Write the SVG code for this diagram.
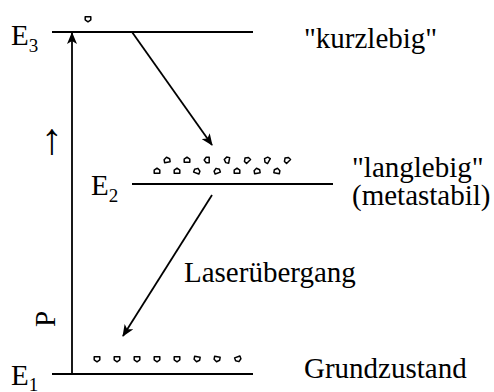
<svg xmlns="http://www.w3.org/2000/svg" width="494" height="392" viewBox="0 0 494 392">
<defs>
<marker id="ah" viewBox="0 0 12 10" refX="11" refY="5" markerWidth="12" markerHeight="10" markerUnits="userSpaceOnUse" orient="auto">
<path d="M0,0 L12,5 L0,10 L3,5 Z" fill="#000"/>
</marker>
<path id="d" fill="#fff" stroke="#000" stroke-width="1.5" stroke-linejoin="round" d="M-2.8,-2.2 L2.8,-2.2 L2.8,0.8 L0,2.8 L-2.8,0.8 Z"/>
</defs>
<g id="level-E3">
<line stroke="#000" stroke-width="2" x1="52" y1="32" x2="253" y2="32"/>
<text font-family="Liberation Serif" font-size="29" x="11" y="45">E<tspan font-size="19" dy="7">3</tspan></text>
<use href="#d" x="88" y="19"/>
<text font-family="Liberation Serif" font-size="29" x="304" y="48">"kurzlebig"</text>
</g>
<g id="level-E2">
<line stroke="#000" stroke-width="2" x1="132" y1="184" x2="333" y2="184"/>
<text font-family="Liberation Serif" font-size="29" x="91" y="195">E<tspan font-size="19" dy="7">2</tspan></text>
<use href="#d" x="157" y="171" transform="rotate(180 157 171)"/>
<use href="#d" x="177" y="171" transform="rotate(180 177 171)"/>
<use href="#d" x="197" y="171" transform="rotate(200 197 171)"/>
<use href="#d" x="217" y="171" transform="rotate(160 217 171)"/>
<use href="#d" x="237" y="171" transform="rotate(180 237 171)"/>
<use href="#d" x="257" y="171" transform="rotate(170 257 171)"/>
<use href="#d" x="277" y="171" transform="rotate(190 277 171)"/>
<use href="#d" x="167" y="160" transform="rotate(170 167 160)"/>
<use href="#d" x="187" y="160" transform="rotate(180 187 160)"/>
<use href="#d" x="207" y="160" transform="rotate(90 207 160)"/>
<use href="#d" x="227" y="160" transform="rotate(100 227 160)"/>
<use href="#d" x="247" y="160" transform="rotate(135 247 160)"/>
<use href="#d" x="267" y="160" transform="rotate(120 267 160)"/>
<use href="#d" x="287" y="160" transform="rotate(135 287 160)"/>
<text font-family="Liberation Serif" font-size="29" x="352" y="177">"langlebig"</text>
<text font-family="Liberation Serif" font-size="29" x="352" y="205">(metastabil)</text>
</g>
<g id="level-E1">
<line stroke="#000" stroke-width="2" x1="52" y1="374" x2="253" y2="374"/>
<text font-family="Liberation Serif" font-size="29" x="11" y="385">E<tspan font-size="19" dy="6">1</tspan></text>
<use href="#d" x="97" y="359"/>
<use href="#d" x="117" y="359"/>
<use href="#d" x="137" y="359"/>
<use href="#d" x="157" y="359"/>
<use href="#d" x="177" y="359"/>
<use href="#d" x="197" y="359" transform="rotate(10 197 359)"/>
<use href="#d" x="217" y="359" transform="rotate(10 217 359)"/>
<use href="#d" x="238" y="359" transform="rotate(-20 238 359)"/>
<text font-family="Liberation Serif" font-size="29" x="304" y="378">Grundzustand</text>
</g>
<g id="pump-label">
<text font-family="Liberation Serif" font-size="29" transform="translate(55,327) rotate(-90)" x="0" y="0">P</text>
<text font-family="Liberation Serif" font-size="44" transform="translate(59,164) rotate(-90)" x="0" y="0">→</text>
</g>
<g id="laser-label">
<text font-family="Liberation Serif" font-size="29" x="184" y="282">Laserübergang</text>
</g>
<g id="connectors" stroke="#000" stroke-width="1.8" fill="none">
<line x1="72" y1="374" x2="72" y2="33" marker-end="url(#ah)"/>
<line x1="132" y1="32" x2="212" y2="145" marker-end="url(#ah)"/>
<line x1="212" y1="195" x2="123" y2="336" marker-end="url(#ah)"/>
</g>
</svg>
